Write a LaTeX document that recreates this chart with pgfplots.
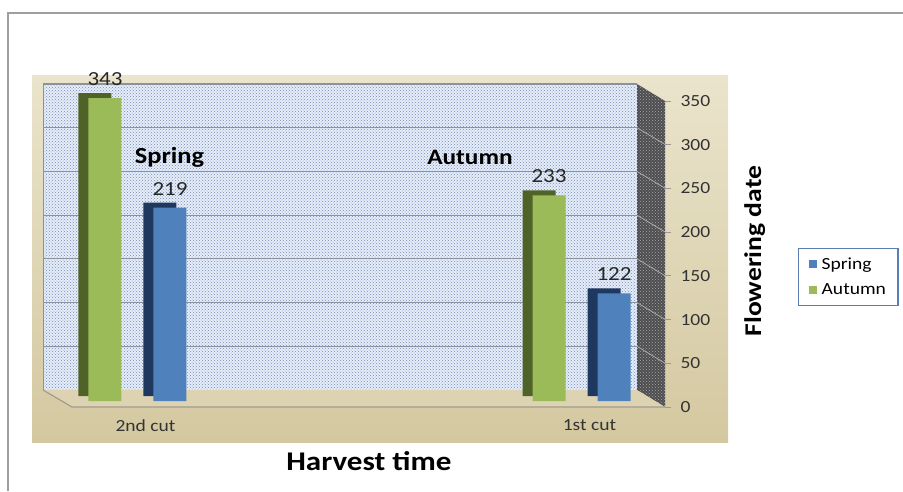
\documentclass[border=0pt]{standalone}
\usepackage{pgfplots}
\pgfplotsset{compat=1.18}
\usepackage{fontspec}
\setmainfont{Carlito}[FakeStretch=1.15]
\usetikzlibrary{patterns}
\definecolor{grnF}{RGB}{155,187,89}
\definecolor{grnD}{RGB}{79,98,40}
\definecolor{bluF}{RGB}{79,129,189}
\definecolor{bluD}{RGB}{31,56,95}
\definecolor{tanT}{RGB}{234,228,204}
\definecolor{tanB}{RGB}{212,200,160}
\definecolor{wallF}{RGB}{230,237,248}
\definecolor{wallD}{RGB}{115,140,185}
\definecolor{sideF}{RGB}{78,78,80}
\definecolor{gridC}{RGB}{140,145,160}
\definecolor{legB}{RGB}{91,125,181}
\begin{document}
\begin{tikzpicture}
\begin{scope}[x=1pt,y=1pt]
\path[use as bounding box] (0,0) rectangle (903,491);
\draw[gray!75, line width=1.5pt] (8,0) -- (8,478) -- (903,478);
\shade[top color=tanT, bottom color=tanB] (32,49) rectangle (728,415);
\end{scope}

% back wall with grid
\begin{axis}[at={(43pt,101pt)}, anchor=south west, scale only axis,
  width=594pt, height=306pt, xmin=0, xmax=1, ymin=0, ymax=350,
  xtick=\empty, ytick={0,50,...,350}, yticklabels={}, major tick length=0pt,
  ymajorgrids, grid style={gridC, line width=1pt},
  axis line style={draw=gridC, line width=0.8pt},
  axis background/.style={fill=wallF, postaction={pattern=crosshatch dots, pattern color=wallD}}]
\addplot[draw=none] coordinates {(0,0)};
\end{axis}

\begin{scope}[x=1pt,y=1pt]
% right side wall
\fill[sideF] (637,407) -- (665,390) -- (665,84) -- (637,101) -- cycle;
\fill[pattern=crosshatch dots, pattern color=gray!70] (637,407) -- (665,390) -- (665,84) -- (637,101) -- cycle;
\foreach \k in {1,...,6} \draw[gray!60, line width=0.7pt] (637,{101+43.71*\k}) -- (665,{84+43.76*\k});
% floor
\fill[tanB!80!white] (43,101) -- (637,101) -- (665,84) -- (72,84) -- cycle;
\draw[gray!60!tanB, line width=1.2pt] (43,101) -- (72,84) -- (665,84);
\end{scope}

% bars
\begin{axis}[at={(62pt,90pt)}, anchor=south west, scale only axis,
  width=603pt, height=309pt, xmin=-0.17, xmax=1.188, ymin=0, ymax=350,
  axis line style={draw=none}, major tick length=0pt,
  /pgf/number format/assume math mode=true,
  ytick=\empty, xtick={0,1}, xticklabels={2nd cut,1st cut},
  xticklabel style={font=\fontsize{17}{17}\selectfont, text=black!80, xshift=8pt, yshift=-15pt},
  xlabel={Harvest time}, ylabel={Flowering date},
  xlabel style={at={(axis description cs:0.509,-0.194)}, anchor=center, font=\bfseries\fontsize{27}{27}\selectfont},
  ylabel style={at={(axis description cs:1.149,0.485)}, anchor=center, font=\bfseries\fontsize{24}{24}\selectfont},
  legend style={at={(axis description cs:1.2206,0.495)}, anchor=north west, draw=legB, line width=1.3pt,
    font=\fontsize{17}{17}\selectfont, row sep=9pt, inner xsep=10pt, inner ysep=7pt, cells={anchor=west},
    /tikz/every odd column/.append style={column sep=3pt}},
  clip=false]
\addplot[ybar, bar width=33pt, bar shift=-42.5pt, fill=grnD, draw=none, forget plot, yshift=5pt] coordinates {(0,343) (1,233)};
\addplot[ybar, bar width=33pt, bar shift=22.5pt, fill=bluD, draw=none, forget plot, yshift=5pt] coordinates {(0,219) (1,122)};
\addplot[ybar, bar width=33pt, bar shift=32.5pt, fill=bluF, draw=none,
  legend image code/.code={\fill[bluF] (0pt,-4pt) rectangle (8pt,4pt);},
  nodes near coords, nodes near coords style={font=\fontsize{20}{20}\selectfont, text=black!85, anchor=south, xshift=32.5pt, yshift=9pt}] coordinates {(0,219) (1,122)};
\addlegendentry{Spring}
\addplot[ybar, bar width=33pt, bar shift=-32.5pt, fill=grnF, draw=none,
  legend image code/.code={\fill[grnF] (0pt,-4pt) rectangle (8pt,4pt);},
  nodes near coords, nodes near coords style={font=\fontsize{20}{20}\selectfont, text=black!85, anchor=south, xshift=-32.5pt, yshift=9pt}] coordinates {(0,343) (1,233)};
\addlegendentry{Autumn}
\end{axis}

% right tick labels
\begin{axis}[at={(664pt,84pt)}, anchor=south west, scale only axis,
  width=1pt, height=306pt, xmin=0, xmax=1, ymin=0, ymax=350,
  ytick={0,50,...,350}, hide x axis, axis y line*=right,
  y axis line style={draw=none}, ytick style={draw=gray!80, line width=0.8pt},
  tick align=outside, major tick length=6pt,
  yticklabel style={font=\fontsize{17}{17}\selectfont, text=black!80, anchor=west, xshift=6pt},
  /pgf/number format/assume math mode=true]
\addplot[draw=none] coordinates {(0,0)};
\end{axis}

\begin{scope}[x=1pt,y=1pt]
\node[font=\bfseries\fontsize{23}{23}\selectfont] at (169.5,334) {Spring};
\node[font=\bfseries\fontsize{22}{22}\selectfont] at (470,334) {Autumn};
\end{scope}
\end{tikzpicture}
\end{document}
